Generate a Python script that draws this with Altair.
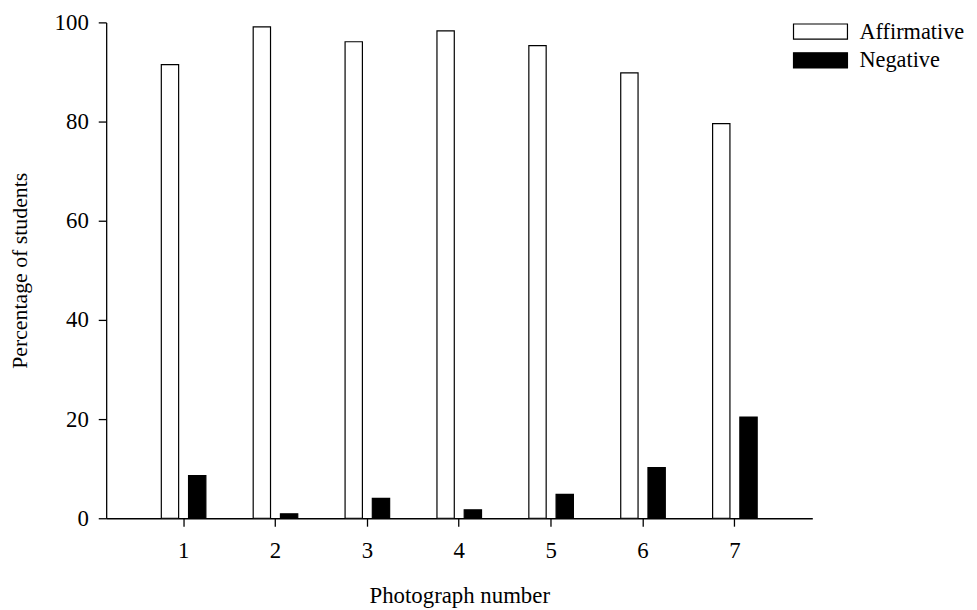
import altair as alt
import pandas as pd

photos = [1, 2, 3, 4, 5, 6, 7]
affirmative = [91.5, 99.1, 96.1, 98.3, 95.3, 89.8, 79.6]
negative = [8.6, 0.9, 4.0, 1.7, 4.8, 10.2, 20.4]
series = ["Affirmative", "Negative"]
y_ticks = [0, 20, 40, 60, 80, 100]

rows = []
for p, a, n in zip(photos, affirmative, negative):
    rows.append({"photo": p, "response": series[0], "pct": a})
    rows.append({"photo": p, "response": series[1], "pct": n})
df = pd.DataFrame(rows)

FONT = "Times New Roman, Liberation Serif, serif"

legend_shape = "M-3.2,-0.9L3.2,-0.9L3.2,0.9L-3.2,0.9Z"

axis_style = dict(domainColor="black", domainWidth=1.3, tickColor="black", tickWidth=1.3,
                  tickSize=8, grid=False,
                  labelFont=FONT, labelFontSize=23, labelColor="black",
                  titleFont=FONT, titleFontWeight="normal",
                  titleColor="black")

chart = alt.Chart(df).mark_bar(stroke="black", strokeWidth=1.2).encode(
    x=alt.X("photo:O",
            scale=alt.Scale(paddingInner=0.515, paddingOuter=0.6),
            axis=alt.Axis(title="Photograph number", labelAngle=0, titleFontSize=23,
                          labelPadding=14, titlePadding=22, **axis_style)),
    xOffset=alt.XOffset("response:N", sort=series,
                        scale=alt.Scale(paddingInner=0.364, paddingOuter=0)),
    y=alt.Y("pct:Q",
            scale=alt.Scale(domain=[0, 100], nice=False),
            axis=alt.Axis(title="Percentage of students", values=y_ticks, titleFontSize=22,
                          labelPadding=10, titlePadding=23, **axis_style)),
    fill=alt.Fill("response:N", sort=series,
                  scale=alt.Scale(domain=series, range=["white", "black"]),
                  legend=alt.Legend(title=None, orient="none", legendX=709, legendY=-2,
                                    symbolType=legend_shape, symbolSize=289,
                                    symbolStrokeColor="black", symbolStrokeWidth=1.2,
                                    labelOffset=28, rowPadding=6, padding=0,
                                    labelFont=FONT, labelFontSize=22.5, labelColor="black")),
).properties(
    width=712, height=500,
    autosize=alt.AutoSizeParams(type="none"),
    padding={"left": 99, "top": 12, "right": 158, "bottom": 90},
).configure(
    font=FONT,
    view=alt.ViewConfig(stroke=None),
    axis=alt.AxisConfig(labelFont=FONT, titleFont=FONT),
    legend=alt.LegendConfig(labelFont=FONT),
)

chart.save("out.html", embed_options={"renderer": "svg", "actions": False})
